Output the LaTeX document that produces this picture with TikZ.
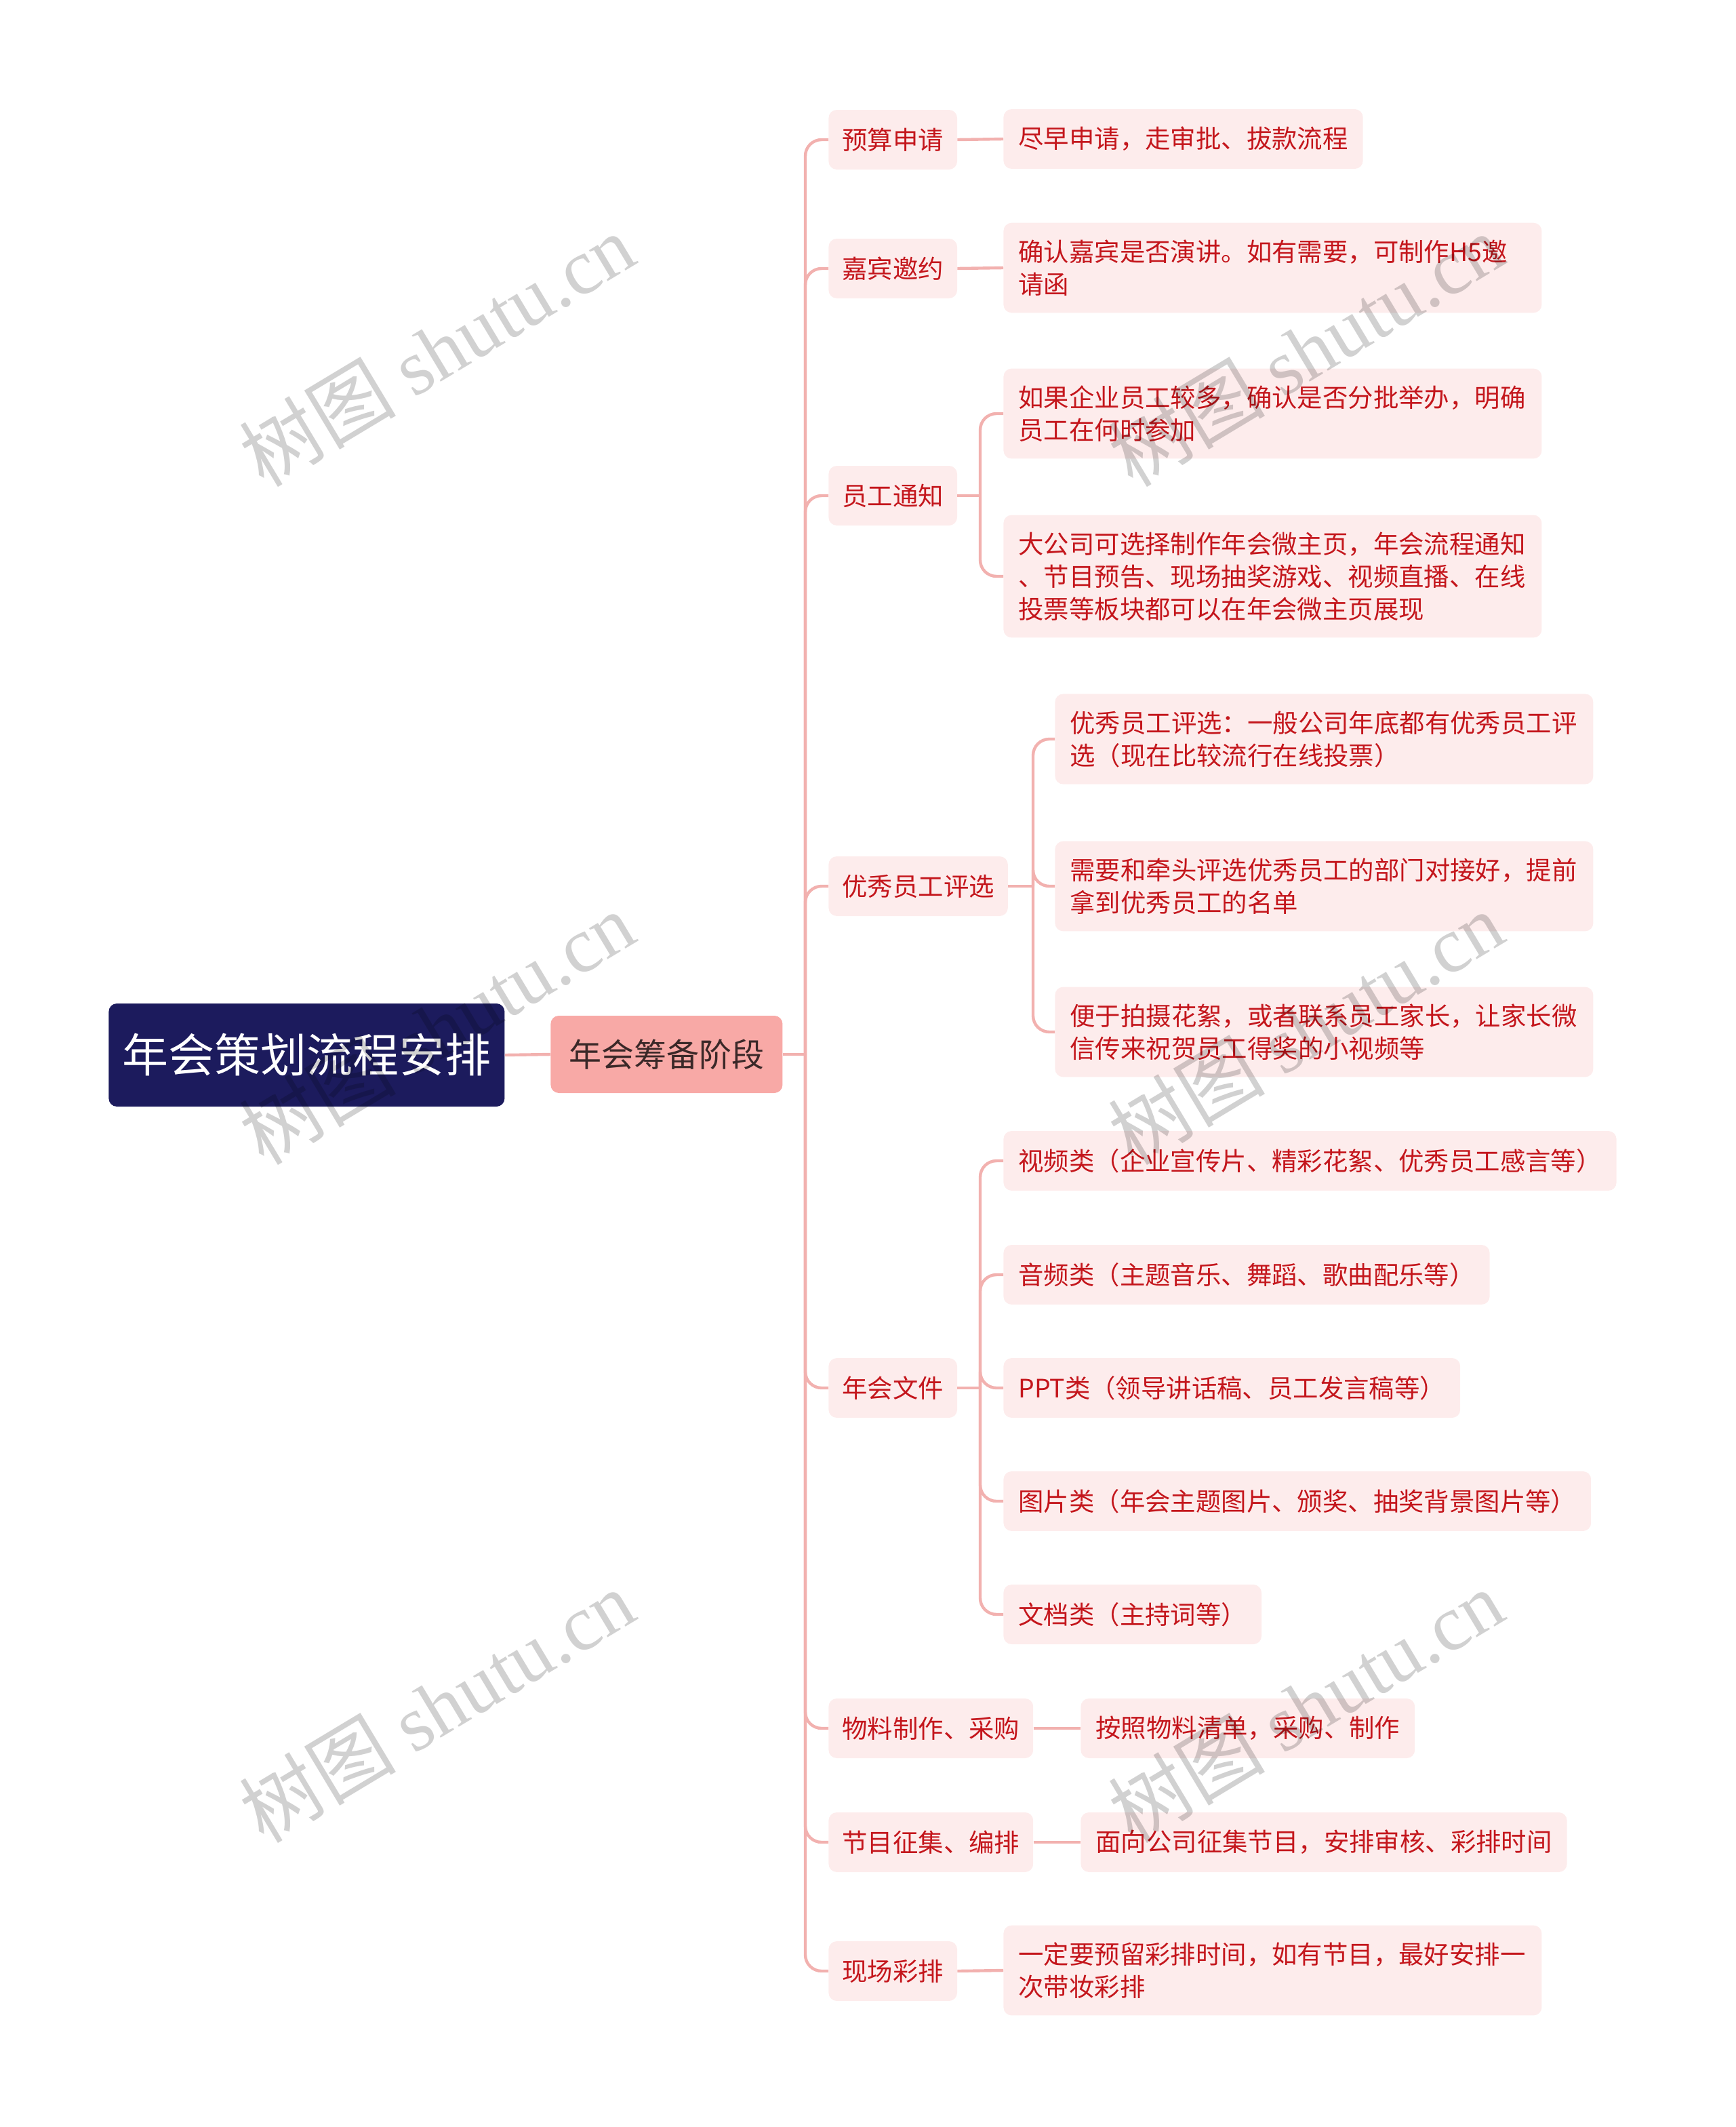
\documentclass[tikz,border=0pt]{standalone}
\usepackage{fontspec}
\setmainfont{Noto Sans CJK SC}
\newfontfamily\wmlatin{Liberation Serif}
\usepackage{tikz}

\definecolor{rootblue}{HTML}{1C1B5D}
\definecolor{stagepink}{HTML}{F8A9A6}
\definecolor{topicfill}{HTML}{FDECEC}
\definecolor{topictext}{HTML}{C4161C}
\definecolor{linepink}{HTML}{F2B1AF}
\definecolor{stagetext}{HTML}{3A2828}

\tikzset{
  rootbox/.style={anchor=west, fill=rootblue, text=white, rounded corners=6pt,
    minimum width=292pt, minimum height=76pt, font={\fontsize{34}{40}\selectfont}},
  stagebox/.style={anchor=west, fill=stagepink, text=stagetext, rounded corners=6pt,
    minimum width=171pt, minimum height=57pt, font={\fontsize{24}{28}\selectfont}},
  topic/.style={anchor=west, fill=topicfill, text=topictext, rounded corners=6pt,
    inner xsep=10pt, inner ysep=12.5pt, minimum height=44pt,
    font={\fontsize{18.7}{24}\selectfont}},
  leaf/.style={topic, inner xsep=11pt},
  wrapped/.style={leaf, text width=375pt, align=left},
  conn/.style={draw=linepink, line width=2.2pt, rounded corners=12pt},
  watermark/.style={text=black, text opacity=0.18, rotate=31,
    font={\fontsize{58}{60}\selectfont}}
}

\begin{document}
\begin{tikzpicture}[x=1pt,y=-1pt]
\useasboundingbox (0,0) rectangle (1280,1568.5);

% main nodes
\node[rootbox] (root) at (80,778) {年会策划流程安排};
\node[stagebox] (stage) at (406,777.5) {年会筹备阶段};

% second level
\node[topic] (ys) at (611,103) {预算申请};
\node[topic] (jb) at (611,198) {嘉宾邀约};
\node[topic] (tz) at (611,365.5) {员工通知};
\node[topic] (px) at (611,653.5) {优秀员工评选};
\node[topic] (wj) at (611,1023.5) {年会文件};
\node[topic] (wl) at (611,1274.5) {物料制作、采购};
\node[topic] (jm) at (611,1358.5) {节目征集、编排};
\node[topic] (cp) at (611,1453.5) {现场彩排};

% leaves
\node[leaf] (ysa) at (740,102.5) {尽早申请，走审批、拔款流程};
\node[wrapped] (jba) at (740,197.5) {确认嘉宾是否演讲。如有需要，可制作H5邀\\请函};
\node[wrapped] (tza) at (740,305) {如果企业员工较多，确认是否分批举办，明确\\员工在何时参加};
\node[wrapped] (tzb) at (740,425) {大公司可选择制作年会微主页，年会流程通知\\、节目预告、现场抽奖游戏、视频直播、在线\\投票等板块都可以在年会微主页展现};
\node[wrapped] (pxa) at (778,545) {优秀员工评选：一般公司年底都有优秀员工评\\选（现在比较流行在线投票）};
\node[wrapped] (pxb) at (778,653.5) {需要和牵头评选优秀员工的部门对接好，提前\\拿到优秀员工的名单};
\node[wrapped] (pxc) at (778,761) {便于拍摄花絮，或者联系员工家长，让家长微\\信传来祝贺员工得奖的小视频等};
\node[leaf] (wja) at (740,856) {视频类（企业宣传片、精彩花絮、优秀员工感言等）};
\node[leaf] (wjb) at (740,940) {音频类（主题音乐、舞蹈、歌曲配乐等）};
\node[leaf] (wjc) at (740,1023.5) {PPT类（领导讲话稿、员工发言稿等）};
\node[leaf] (wjd) at (740,1107) {图片类（年会主题图片、颁奖、抽奖背景图片等）};
\node[leaf] (wje) at (740,1190.5) {文档类（主持词等）};
\node[leaf] (wla) at (797,1274.5) {按照物料清单，采购、制作};
\node[leaf] (jma) at (797,1358.5) {面向公司征集节目，安排审核、彩排时间};
\node[wrapped] (cpa) at (740,1453) {一定要预留彩排时间，如有节目，最好安排一\\次带妆彩排};

% connectors
\coordinate (trunk) at (594,777.5);
\draw[conn] (root.east) -- (stage.west);
\draw[conn] (stage.east) -- (trunk);
\foreach \t in {ys,jb,tz,px,wj,wl,jm,cp}
  \draw[conn] (trunk) |- (\t.west);

\draw[conn] (ys.east) -- (ysa.west);
\draw[conn] (jb.east) -- (jba.west);
\draw[conn] (wl.east) -- (wla.west);
\draw[conn] (jm.east) -- (jma.west);
\draw[conn] (cp.east) -- (cpa.west);

\coordinate (tzfork) at (723,365.5);
\draw[conn] (tz.east) -- (tzfork);
\foreach \l in {tza,tzb}
  \draw[conn] (tzfork) |- (\l.west);

\coordinate (pxfork) at (762,653.5);
\draw[conn] (px.east) -- (pxfork);
\foreach \l in {pxa,pxb,pxc}
  \draw[conn] (pxfork) |- (\l.west);

\coordinate (wjfork) at (723,1023.5);
\draw[conn] (wj.east) -- (wjfork);
\foreach \l in {wja,wjb,wjc,wjd,wje}
  \draw[conn] (wjfork) |- (\l.west);

% watermarks
\foreach \wx in {322,963}
  \foreach \wy in {258,758,1258}
    \node[watermark] (wm-\wx-\wy) at (\wx,\wy) {树图 {\wmlatin shutu.cn}};

\end{tikzpicture}
\end{document}
